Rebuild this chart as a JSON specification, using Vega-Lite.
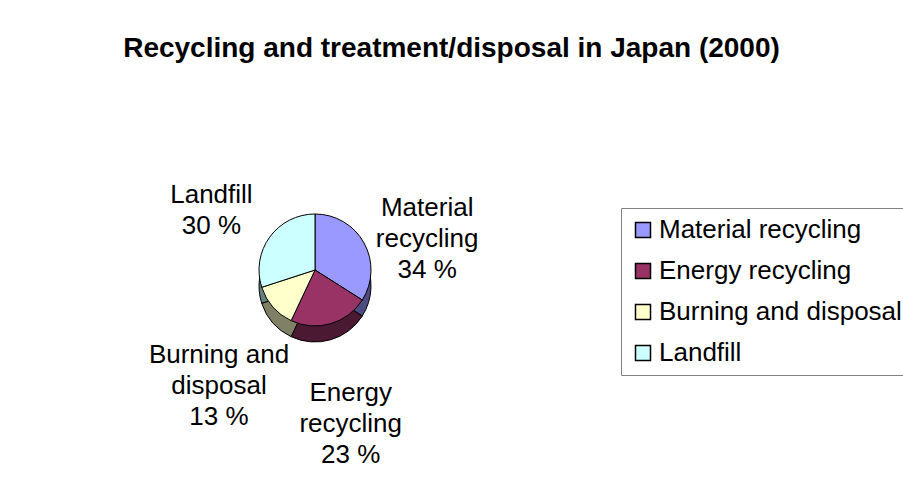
{
  "$schema": "https://vega.github.io/schema/vega-lite/v6.json",
  "autosize": "none",
  "width": 630,
  "height": 380,
  "padding": {"left": 0, "top": 80, "right": 273, "bottom": 33},
  "background": "white",
  "title": {
    "text": "Recycling and treatment/disposal in Japan (2000)",
    "font": "Liberation Sans",
    "fontSize": 28,
    "fontWeight": "bold",
    "color": "black",
    "anchor": "middle",
    "frame": "group",
    "dx": 136.5,
    "dy": 28,
    "baseline": "alphabetic",
    "offset": 23
  },
  "data": {
    "values": [
      {"category": "Material recycling", "value": 34, "order": 1, "label": "Material\nrecycling\n34 %"},
      {"category": "Energy recycling", "value": 23, "order": 2, "label": "Energy\nrecycling\n23 %"},
      {"category": "Burning and disposal", "value": 13, "order": 3, "label": "Burning and\ndisposal\n13 %"},
      {"category": "Landfill", "value": 30, "order": 4, "label": "Landfill\n30 %"}
    ]
  },
  "layer": [
    {
      "mark": {"type": "arc", "outerRadius": 56, "yOffset": 16, "stroke": "black", "strokeWidth": 1},
      "encoding": {
        "theta": {"field": "value", "type": "quantitative", "stack": true},
        "order": {"field": "order", "type": "quantitative"},
        "color": {
          "field": "category",
          "type": "nominal",
          "scale": {
            "domain": ["Material recycling", "Energy recycling", "Burning and disposal", "Landfill"],
            "range": ["#4C4C80", "#4C1933", "#808066", "#668080"]
          },
          "legend": null
        }
      }
    },
    {
      "mark": {"type": "arc", "outerRadius": 56, "stroke": "black", "strokeWidth": 1},
      "encoding": {
        "theta": {"field": "value", "type": "quantitative", "stack": true},
        "order": {"field": "order", "type": "quantitative"},
        "color": {
          "field": "category",
          "type": "nominal",
          "scale": {
            "domain": ["Material recycling", "Energy recycling", "Burning and disposal", "Landfill"],
            "range": ["#9999FF", "#993366", "#FFFFCC", "#CCFFFF"]
          },
          "legend": {
            "orient": "none",
            "legendX": 621,
            "legendY": 128,
            "title": null,
            "symbolType": "square",
            "symbolSize": 225,
            "symbolStrokeColor": "black",
            "symbolStrokeWidth": 1.5,
            "labelFont": "Liberation Sans",
            "labelFontSize": 26,
            "labelColor": "black",
            "labelOffset": 3,
            "labelLimit": 400,
            "rowPadding": 15,
            "padding": 9,
            "strokeColor": "#808080",
            "fillColor": "white"
          }
        }
      }
    },
    {
      "mark": {"type": "text", "radius": 128, "font": "Liberation Sans", "fontSize": 26, "lineHeight": 31, "lineBreak": "\n", "fill": "black", "align": "center", "baseline": "middle"},
      "encoding": {
        "theta": {"field": "value", "type": "quantitative", "stack": true},
        "order": {"field": "order", "type": "quantitative"},
        "text": {"field": "label", "type": "nominal"}
      }
    }
  ],
  "resolve": {"scale": {"color": "independent", "theta": "shared"}},
  "config": {"view": {"stroke": null}}
}
